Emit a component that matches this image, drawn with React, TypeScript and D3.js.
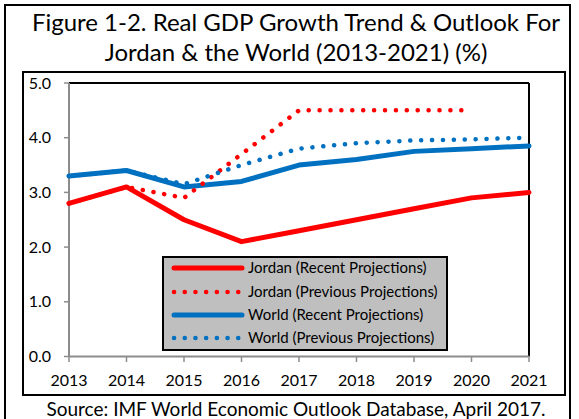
import React from "react";
import * as d3 from "d3";

const years = [2013, 2014, 2015, 2016, 2017, 2018, 2019, 2020, 2021];
const jordanRecent = [2.8, 3.1, 2.5, 2.1, 2.3, 2.5, 2.7, 2.9, 3.0];
const jordanPrevious = [2.8, 3.1, 2.9, 3.7, 4.5, 4.5, 4.5, 4.5, null];
const worldRecent = [3.3, 3.4, 3.1, 3.2, 3.5, 3.6, 3.75, 3.8, 3.85];
const worldPrevious = [3.3, 3.4, 3.15, 3.5, 3.8, 3.9, 3.95, 3.97, 4.0];
const yTicks = [0, 1, 2, 3, 4, 5];

const seriesNames = [
  "Jordan (Recent Projections)",
  "Jordan (Previous Projections)",
  "World (Recent Projections)",
  "World (Previous Projections)",
];
const titleLines = [
  "Figure 1-2. Real GDP Growth Trend & Outlook For",
  "Jordan & the World (2013-2021) (%)",
];
const sourceText = "Source: IMF World Economic Outlook Database, April 2017.";

const W = 579;
const H = 419;
const FONT = "Lato, 'Open Sans', sans-serif";

export default function App() {
  const x = d3.scaleLinear().domain([2013, 2021]).range([69, 529]);
  const y = d3.scaleLinear().domain([0, 5]).range([356.5, 83]);

  const line = d3
    .line<[number, number | null]>()
    .defined((d) => d[1] !== null)
    .x((d) => x(d[0]))
    .y((d) => y(d[1] as number));

  const series = [
    { vals: jordanRecent, color: "#FF0000", dotted: false },
    { vals: jordanPrevious, color: "#FF0000", dotted: true },
    { vals: worldRecent, color: "#0070C0", dotted: false },
    { vals: worldPrevious, color: "#0070C0", dotted: true },
  ];
  const drawOrder = [0, 2, 1, 3];

  const legendX = 163;
  const legendY = 257;
  const legendW = 284;
  const legendH = 93;
  const rowYs = [268, 292, 315, 338];

  return (
    <svg width={W} height={H} style={{ display: "block", position: "absolute", left: 0, top: 0 }}>
      <rect x={0} y={0} width={W} height={H} fill="#fff" />
      <rect x={5} y={5} width={565} height={430} fill="none" stroke="#000" strokeWidth={2} />
      {titleLines.map((t, i) => (
        <text
          key={i}
          x={296}
          y={31 + i * 30}
          textAnchor="middle"
          fontFamily={FONT}
          fontSize={24}
          fill="#000"
        >
          {t}
        </text>
      ))}
      <rect x={23} y={72} width={542} height={323} fill="#fff" stroke="#000" strokeWidth={2} />
      <line x1={69} x2={529} y1={83} y2={83} stroke="#000" strokeWidth={2} />
      <line x1={529} x2={529} y1={83} y2={356.5} stroke="#000" strokeWidth={2} />
      <line x1={69} x2={69} y1={83} y2={356.5} stroke="#8c8c8c" strokeWidth={2} />
      <line x1={69} x2={529} y1={356.5} y2={356.5} stroke="#8c8c8c" strokeWidth={2} />
      {yTicks.map((t) => (
        <g key={t}>
          <line x1={64} x2={69} y1={y(t)} y2={y(t)} stroke="#8c8c8c" strokeWidth={1.5} />
          <text
            x={51}
            y={y(t)}
            dy="0.35em"
            textAnchor="end"
            fontFamily={FONT}
            fontSize={16}
            fill="#000"
          >
            {t.toFixed(1)}
          </text>
        </g>
      ))}
      {years.map((yr) => (
        <g key={yr}>
          <line x1={x(yr)} x2={x(yr)} y1={356.5} y2={362} stroke="#8c8c8c" strokeWidth={1.5} />
          <text
            x={x(yr)}
            y={386}
            textAnchor="middle"
            fontFamily={FONT}
            fontSize={16}
            fill="#000"
          >
            {yr}
          </text>
        </g>
      ))}
      {drawOrder.map((i) => {
        const s = series[i];
        const data = years.map((yr, k) => [yr, s.vals[k]] as [number, number | null]);
        return (
          <path
            key={i}
            d={line(data) || ""}
            fill="none"
            stroke={s.color}
            strokeWidth={s.dotted ? 4.5 : 5}
            strokeLinecap="round"
            strokeLinejoin="round"
            strokeDasharray={s.dotted ? "0.1 10.8" : undefined}
          />
        );
      })}
      <rect
        x={legendX}
        y={legendY}
        width={legendW}
        height={legendH}
        fill="#BFBFBF"
        stroke="#000"
        strokeWidth={2}
      />
      {seriesNames.map((name, i) => {
        const s = series[i];
        return (
          <g key={name}>
            <line
              x1={174}
              x2={242}
              y1={rowYs[i]}
              y2={rowYs[i]}
              stroke={s.color}
              strokeWidth={s.dotted ? 4.5 : 5}
              strokeLinecap="round"
              strokeDasharray={s.dotted ? "0.1 10.6" : undefined}
            />
            <text
              x={248}
              y={rowYs[i]}
              dy="0.35em"
              fontFamily={FONT}
              fontSize={15}
              fill="#000"
            >
              {name}
            </text>
          </g>
        );
      })}
      <text
        x={296}
        y={416}
        textAnchor="middle"
        fontFamily={FONT}
        fontSize={19}
        fill="#000"
      >
        {sourceText}
      </text>
    </svg>
  );
}
